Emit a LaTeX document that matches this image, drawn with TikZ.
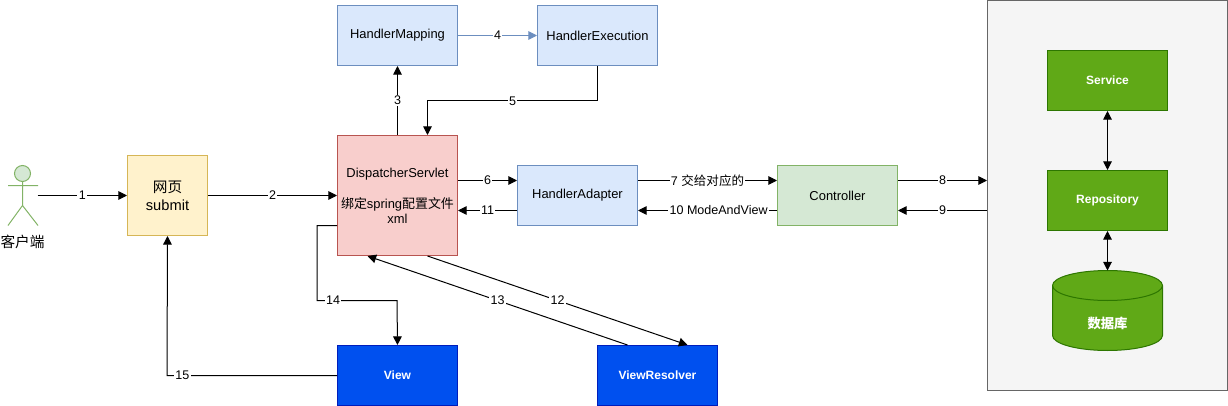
\documentclass[tikz,border=0pt]{standalone}
\usepackage{fontspec}
\setmainfont{Liberation Sans}
\newfontfamily\cjk{Noto Sans CJK SC}
\usetikzlibrary{arrows.meta}
\definecolor{blueFill}{HTML}{DAE8FC}
\definecolor{blueLine}{HTML}{6C8EBF}
\definecolor{redFill}{HTML}{F8CECC}
\definecolor{redLine}{HTML}{B85450}
\definecolor{yellowFill}{HTML}{FFF2CC}
\definecolor{yellowLine}{HTML}{D6B656}
\definecolor{paleFill}{HTML}{D5E8D4}
\definecolor{paleLine}{HTML}{82B366}
\definecolor{viewFill}{HTML}{0050EF}
\definecolor{viewLine}{HTML}{001DBC}
\definecolor{leafFill}{HTML}{60A917}
\definecolor{leafLine}{HTML}{2D7600}
\definecolor{panelFill}{HTML}{F5F5F5}
\definecolor{panelLine}{HTML}{666666}
\tikzset{
    box/.style={draw, line width=0.75pt, minimum width=90pt, minimum height=45pt, inner sep=0pt, align=center, font=\fontsize{9.7}{11}\selectfont},
    bluebox/.style={box, fill=blueFill, draw=blueLine},
    viewbox/.style={box, fill=viewFill, draw=viewLine, text=white, font=\fontsize{9}{11}\selectfont\bfseries},
    leafbox/.style={box, fill=leafFill, draw=leafLine, text=white, font=\fontsize{9}{11}\selectfont\bfseries},
    flow/.style={line width=0.75pt, -{Triangle[length=6.5pt,width=6.5pt]}},
    both/.style={line width=0.75pt, {Triangle[length=6.5pt,width=6.5pt]}-{Triangle[length=6.5pt,width=6.5pt]}},
    lbl/.style={fill=white, inner sep=1pt, font=\fontsize{9.4}{11}\selectfont}
}
\begin{document}
\begin{tikzpicture}[x=0.75pt, y=-0.75pt]
    \useasboundingbox (-0.5,-0.5) rectangle (1227.5,405.5);

    % Right panel
    \node[draw=panelLine, fill=panelFill, line width=0.75pt, minimum width=180pt, minimum height=292.5pt, inner sep=0pt] (panel) at (1107,195) {};
    \node[leafbox] (service) at (1107,80) {Service};
    \node[leafbox] (repository) at (1107,200) {Repository};

    % Database drum
    \draw[leafLine, fill=leafFill, line width=0.75pt] (1052,285) arc (180:360:55 and 15) -- (1162,335) arc (0:180:55 and 15) -- cycle;
    \draw[leafLine, line width=0.75pt] (1052,285) arc (180:0:55 and 15);
    \node[text=white, inner sep=0pt, font=\fontsize{10}{12}\selectfont\bfseries\cjk] (database) at (1107,323) {数据库};
    \coordinate (databasetop) at (1107,270);

    % Actor
    \draw[paleLine, fill=paleFill, line width=0.75pt] (22,173) circle (6pt);
    \draw[paleLine, line width=0.75pt] (22,181) -- (22,205) (7.5,185) -- (37.5,185) (7.5,225) -- (22,205) -- (37.5,225);
    \node[font=\fontsize{11}{13}\selectfont\cjk, inner sep=0pt] (client) at (22,241) {客户端};
    \coordinate (clienthand) at (37,195);

    % Boxes
    \node[box, fill=yellowFill, draw=yellowLine, minimum width=60pt, minimum height=60pt, font=\fontsize{11}{13.5}\selectfont] (webpage) at (167,195) {{\cjk 网页}\\submit};
    \node[box, fill=redFill, draw=redLine, minimum height=90pt] (dispatcher) at (397,195) {DispatcherServlet\\[12.5pt]{\cjk 绑定}spring{\cjk 配置文件}\\xml};
    \node[bluebox] (mapping) at (397,35) {HandlerMapping};
    \node[bluebox] (execution) at (597,35) {HandlerExecution};
    \node[bluebox] (adapter) at (577,195) {HandlerAdapter};
    \node[box, fill=paleFill, draw=paleLine] (controller) at (837,195) {Controller};
    \node[viewbox] (view) at (397,375) {View};
    \node[viewbox] (resolver) at (657,375) {ViewResolver};

    % Numbered flow
    \draw[flow] (clienthand) -- node[lbl] (lbl1) {1} (webpage.west);
    \draw[flow] (webpage.east) -- node[lbl] (lbl2) {2} (dispatcher.west);
    \draw[flow] (dispatcher.north) -- node[lbl] (lbl3) {3} (mapping.south);
    \draw[flow, blueLine] (mapping.east) -- node[lbl, text=black] (lbl4) {4} (execution.west);
    \draw[flow] (execution.south) -- ++(0,35) -| node[lbl, pos=.25] (lbl5) {5} ([xshift=22.5pt]dispatcher.north);
    \draw[flow] ([yshift=11.25pt]dispatcher.east) -- node[lbl] (lbl6) {6} ([yshift=11.25pt]adapter.west);
    \draw[flow] ([yshift=11.25pt]adapter.east) -- node[lbl] (lbl7) {7 {\cjk 交给对应的}} ([yshift=11.25pt]controller.west);
    \draw[flow] ([yshift=11.25pt]controller.east) -- node[lbl] (lbl8) {8} ([yshift=11.25pt]panel.west);
    \draw[flow] ([yshift=-11.25pt]panel.west) -- node[lbl] (lbl9) {9} ([yshift=-11.25pt]controller.east);
    \draw[flow] ([yshift=-11.25pt]controller.west) -- node[lbl, pos=.42] (lbl10) {10 ModeAndView} ([yshift=-11.25pt]adapter.east);
    \draw[flow] ([yshift=-11.25pt]adapter.west) -- node[lbl] (lbl11) {11} ([yshift=-11.25pt]dispatcher.east);
    \draw[flow] ([xshift=22.5pt]dispatcher.south) -- node[lbl] (lbl12) {12} ([xshift=22.5pt]resolver.north);
    \draw[flow] ([xshift=-22.5pt]resolver.north) -- node[lbl] (lbl13) {13} ([xshift=-22.5pt]dispatcher.south);
    \draw[flow] ([yshift=-22.5pt]dispatcher.west) -- ++(-20,0) -- ++(0,75) -- node[lbl, pos=.2] (lbl14) {14} ++(80,0) -- (view.north);
    \draw[flow] (view.west) -- node[lbl, pos=.91] (lbl15) {15} ++(-170,0) -- (webpage.south);

    % Panel links
    \draw[both] (service.south) -- (repository.north);
    \draw[both] (repository.south) -- (databasetop);
\end{tikzpicture}
\end{document}
